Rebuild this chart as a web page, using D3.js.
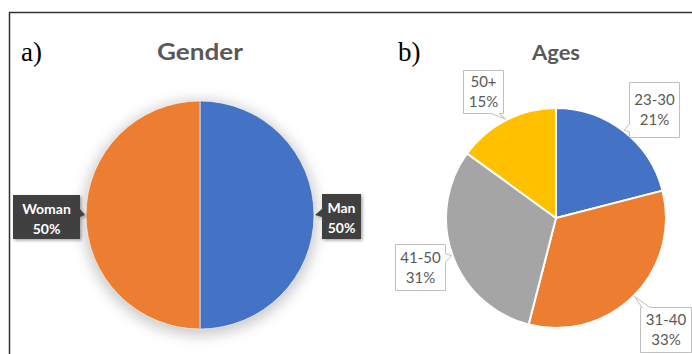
<!DOCTYPE html>
<html>
<head>
  <meta charset="utf-8">
  <title>Gender and Ages</title>
  <script src="https://cdn.jsdelivr.net/npm/d3@7"></script>
  <style>
    html, body { margin: 0; padding: 0; background: #ffffff; }
    svg { display: block; }
    .panel-tag { font-family: 'Liberation Serif', 'Times New Roman', serif; font-size: 27px; fill: #000; }
    .title { font-family: Lato, 'Open Sans', sans-serif; font-weight: bold; fill: #595959; text-anchor: middle; }
    .lbl-dark { font-family: Lato, sans-serif; font-weight: bold; font-size: 14px; fill: #ffffff; text-anchor: middle; }
    .lbl-light { font-family: Lato, sans-serif; font-size: 15px; fill: #595959; text-anchor: middle; }
  </style>
</head>
<body>
<script>
  // data
  const genders = ["Man", "Woman"];
  const genderValues = [50, 50];
  const genderColors = ["#4472C4", "#ED7D31"];

  const ages = ["23-30", "31-40", "41-50", "50+"];
  const ageValues = [21, 33, 31, 15];
  const ageColors = ["#4472C4", "#ED7D31", "#A5A5A5", "#FFC000"];

  const W = 692, H = 354;

  const svg = d3.select("body").append("svg")
    .attr("width", W)
    .attr("height", H);

  const defs = svg.append("defs");
  defs.append("filter").attr("id", "glow")
    .attr("x", "-30%").attr("y", "-30%").attr("width", "160%").attr("height", "160%")
    .append("feGaussianBlur").attr("stdDeviation", 7);
  defs.append("filter").attr("id", "shadow")
    .attr("x", "-20%").attr("y", "-20%").attr("width", "150%").attr("height", "150%")
    .append("feDropShadow")
    .attr("dx", 1.5).attr("dy", 1.5).attr("stdDeviation", 1.5)
    .attr("flood-color", "#000").attr("flood-opacity", 0.35);

  // frame lines
  svg.append("line").attr("x1", 9).attr("y1", 12.5).attr("x2", W).attr("y2", 12.5)
    .attr("stroke", "#333").attr("stroke-width", 1.5);
  svg.append("line").attr("x1", 9.5).attr("y1", 12).attr("x2", 9.5).attr("y2", H)
    .attr("stroke", "#333").attr("stroke-width", 1.5);

  svg.append("text").attr("class", "panel-tag").attr("x", 21).attr("y", 61).text("a)");
  svg.append("text").attr("class", "panel-tag").attr("x", 398).attr("y", 61).text("b)");

  // builds a box with a little wedge pointing at (tx, ty)
  function callout(b, side, at, tip) {
    const x0 = b.x, y0 = b.y, x1 = b.x + b.w, y1 = b.y + b.h, hw = 4;
    const p = d3.path();
    p.moveTo(x0, y0);
    if (side === "top") { p.lineTo(at - hw, y0); p.lineTo(tip[0], tip[1]); p.lineTo(at + hw, y0); }
    p.lineTo(x1, y0);
    if (side === "right") { p.lineTo(x1, at - hw); p.lineTo(tip[0], tip[1]); p.lineTo(x1, at + hw); }
    p.lineTo(x1, y1);
    if (side === "bottom") { p.lineTo(at + hw, y1); p.lineTo(tip[0], tip[1]); p.lineTo(at - hw, y1); }
    p.lineTo(x0, y1);
    if (side === "left") { p.lineTo(x0, at + hw); p.lineTo(tip[0], tip[1]); p.lineTo(x0, at - hw); }
    p.closePath();
    return p.toString();
  }

  function edgePoint(cx, cy, r, d) {
    const a = (d.startAngle + d.endAngle) / 2;
    return [cx + r * Math.sin(a), cy - r * Math.cos(a)];
  }

  const pie = d3.pie().sort(null).value(d => d);

  // ---- Gender ----
  const g1 = { cx: 200, cy: 215, r: 114 };
  svg.append("text").attr("class", "title")
    .attr("x", g1.cx).attr("y", 60)
    .style("font-size", "23px")
    .attr("textLength", 86).attr("lengthAdjust", "spacingAndGlyphs")
    .text("Gender");

  svg.append("circle").attr("cx", g1.cx).attr("cy", g1.cy + 3).attr("r", g1.r + 3)
    .attr("fill", "#9a9a9a").attr("opacity", 0.55).attr("filter", "url(#glow)");

  const arc1 = d3.arc().innerRadius(0).outerRadius(g1.r);
  const genderArcs = pie(genderValues);
  svg.append("g").attr("transform", `translate(${g1.cx},${g1.cy})`)
    .selectAll("path").data(genderArcs).join("path")
    .attr("d", arc1)
    .attr("fill", (d, i) => genderColors[i])
    .attr("stroke", "#ffffff").attr("stroke-width", 0.6);

  const genderBoxes = [
    { x: 322, y: 194, w: 39, h: 45, side: "left", at: 213 },
    { x: 13, y: 195, w: 67, h: 44, side: "right", at: 213 }
  ];
  genderArcs.forEach((d, i) => {
    const b = genderBoxes[i];
    const tip = edgePoint(g1.cx, g1.cy, g1.r + 1, d);
    svg.append("path").attr("d", callout(b, b.side, b.at, tip))
      .attr("fill", "#404040").attr("filter", "url(#shadow)");
    const t = svg.append("text").attr("class", "lbl-dark").attr("x", b.x + b.w / 2);
    t.append("tspan").attr("x", b.x + b.w / 2).attr("y", b.y + 19).text(genders[i]);
    t.append("tspan").attr("x", b.x + b.w / 2).attr("y", b.y + 39).text(genderValues[i] + "%");
  });

  // ---- Ages ----
  const g2 = { cx: 556, cy: 218, r: 110 };
  svg.append("text").attr("class", "title")
    .attr("x", g2.cx).attr("y", 60)
    .style("font-size", "21px")
    .attr("textLength", 48).attr("lengthAdjust", "spacingAndGlyphs")
    .text("Ages");

  const arc2 = d3.arc().innerRadius(0).outerRadius(g2.r);
  const ageArcs = pie(ageValues);
  svg.append("g").attr("transform", `translate(${g2.cx},${g2.cy})`)
    .selectAll("path").data(ageArcs).join("path")
    .attr("d", arc2)
    .attr("fill", (d, i) => ageColors[i])
    .attr("stroke", "#ffffff").attr("stroke-width", 2);

  const ageBoxes = [
    { x: 629.5, y: 82.5, w: 50, h: 55, side: "left", at: 128 },
    { x: 640.5, y: 307.5, w: 51, h: 45, side: "top", at: 646 },
    { x: 395.5, y: 244.5, w: 50, h: 46, side: "right", at: 258 },
    { x: 463.5, y: 70.5, w: 40, h: 43, side: "bottom", at: 495 }
  ];
  ageArcs.forEach((d, i) => {
    const b = ageBoxes[i];
    const tip = edgePoint(g2.cx, g2.cy, g2.r + 1, d);
    svg.append("path").attr("d", callout(b, b.side, b.at, tip))
      .attr("fill", "#ffffff").attr("stroke", "#bfbfbf").attr("stroke-width", 1);
    const mid = b.y + b.h / 2;
    const t = svg.append("text").attr("class", "lbl-light");
    t.append("tspan").attr("x", b.x + b.w / 2).attr("y", mid - 5).text(ages[i]);
    t.append("tspan").attr("x", b.x + b.w / 2).attr("y", mid + 15).text(ageValues[i] + "%");
  });
</script>
</body>
</html>
